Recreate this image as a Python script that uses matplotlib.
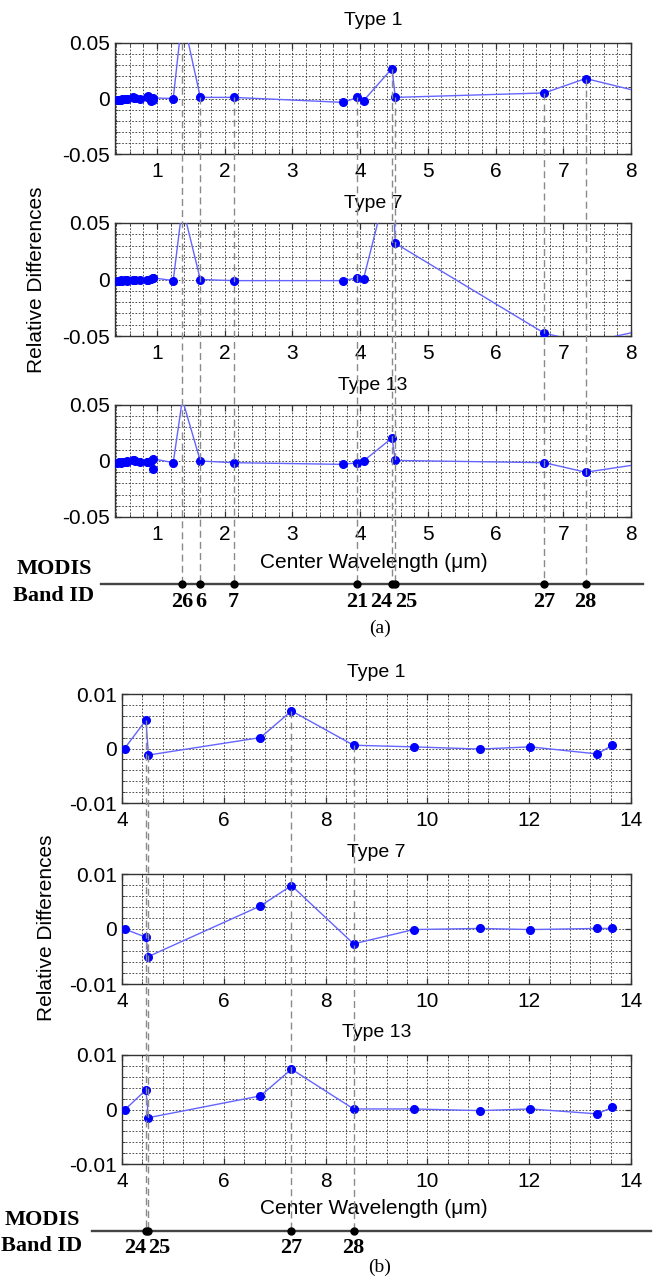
import matplotlib
matplotlib.use('Agg')
import matplotlib.pyplot as plt
from matplotlib.lines import Line2D
from matplotlib.ticker import MultipleLocator
import numpy as np

plt.rcParams['font.family'] = ['Liberation Sans', 'DejaVu Sans']

# ---------------- data: panel (a) ----------------
wl_a = [0.412, 0.443, 0.469, 0.488, 0.531, 0.551, 0.555, 0.645, 0.667, 0.678,
        0.748, 0.858, 0.869, 0.905, 0.936, 0.940, 1.24, 1.375, 1.64, 2.13,
        3.75, 3.96, 4.05, 4.47, 4.52, 6.72, 7.33, 8.55]
type1_a = [-0.001, -0.0012, -0.001, -0.0008, -0.0005, -0.0005, 0.0, 0.001, 0.0008, 0.0005,
           -0.0002, 0.0015, 0.002, -0.002, -0.0015, 0.0005, 0.0, 0.075, 0.001, 0.001,
           -0.0035, 0.001, -0.002, 0.027, 0.001, 0.005, 0.018, -0.0002]
type7_a = [-0.001, -0.001, -0.0008, -0.001, -0.0008, -0.0008, -0.001, -0.0006, -0.0006, -0.0008,
           -0.0008, -0.0005, -0.0005, 0.0005, 0.0012, 0.0015, -0.001, 0.065, 0.0, -0.001,
           -0.001, 0.0015, 0.0005, 0.10, 0.032, -0.0475, -0.056, -0.04]
type13_a = [-0.002, -0.001, -0.0015, -0.0005, -0.001, -0.0005, 0.0, 0.001, 0.0005, 0.0,
            -0.001, -0.0005, -0.001, 0.0, -0.007, 0.002, -0.0015, 0.055, 0.0, -0.0015,
            -0.003, -0.0015, 0.0, 0.0205, 0.0005, -0.0015, -0.01, 0.001]
xticks_a = [1, 2, 3, 4, 5, 6, 7, 8]
xticklabels_a = ['1', '2', '3', '4', '5', '6', '7', '8']
yticks_a = [-0.05, 0, 0.05]
yticklabels_a = ['-0.05', '0', '0.05']
band_wl_a = [1.375, 1.64, 2.13, 3.96, 4.47, 4.52, 6.72, 7.33]
band_id_a = ['26', '6', '7', '21', '24', '25', '27', '28']
band_ha_a = ['center', 'center', 'center', 'center', 'right', 'left', 'center', 'center']

# ---------------- data: panel (b) ----------------
wl_b = [4.05, 4.47, 4.52, 6.72, 7.33, 8.55, 9.73, 11.03, 12.02, 13.335, 13.635]
type1_b = [0.0, 0.0052, -0.0012, 0.002, 0.0069, 0.0006, 0.0003, -0.0001, 0.0003, -0.001, 0.0006]
type7_b = [0.0, -0.0015, -0.005, 0.0042, 0.0079, -0.0027, -0.0001, 0.0001, -0.0001, 0.0001, 0.0001]
type13_b = [-0.0001, 0.0036, -0.0015, 0.0025, 0.0074, 0.0001, 0.0001, -0.0002, 0.0001, -0.0008, 0.0004]
xticks_b = [4, 6, 8, 10, 12, 14]
xticklabels_b = ['4', '6', '8', '10', '12', '14']
yticks_b = [-0.01, 0, 0.01]
yticklabels_b = ['-0.01', '0', '0.01']
band_wl_b = [4.47, 4.52, 7.33, 8.55]
band_id_b = ['24', '25', '27', '28']
band_ha_b = ['right', 'left', 'center', 'center']

titles = ['Type 1', 'Type 7', 'Type 13']

# ---------------- layout helpers ----------------
W, H = 659, 1281
fig = plt.figure(figsize=(W / 100, H / 100), dpi=100)


def fx(px):
    return px / W


def fy(py):
    return 1 - py / H


def rect(l, r, t, b):
    return [fx(l), fy(b), fx(r) - fx(l), fy(t) - fy(b)]


LINE_C = '#6464ff'
MARK_C = '#0000ff'
GRID_C = '#333333'
FRAME_C = '#333333'


def make_axes(r, xlim, xt, xtl, xminor, yt, ytl, yminor, x, y, title, tpad):
    ax = fig.add_axes(r)
    ax.plot(x, y, color=LINE_C, lw=1.0, zorder=3)
    ax.plot(x, y, ls='none', marker='o', ms=5.5, color=MARK_C, zorder=4)
    ax.set_xlim(xlim)
    ax.set_ylim(yt[0], yt[-1])
    ax.set_xticks(xt)
    ax.set_xticklabels(xtl)
    ax.set_yticks(yt)
    ax.set_yticklabels(ytl)
    ax.xaxis.set_minor_locator(MultipleLocator(xminor))
    ax.yaxis.set_minor_locator(MultipleLocator(yminor))
    ax.grid(which='both', linestyle=(0, (2, 2)), color=GRID_C, linewidth=0.6, zorder=1)
    ax.set_axisbelow(True)
    ax.tick_params(which='both', direction='in', top=True, right=True, color=FRAME_C)
    ax.tick_params(which='major', length=4.5, width=0.9, labelsize=15)
    ax.tick_params(which='minor', length=2.2, width=0.6)
    ax.tick_params(axis='x', pad=5.5)
    ax.tick_params(axis='y', pad=3.5)
    for s in ax.spines.values():
        s.set_color(FRAME_C)
        s.set_linewidth(1.0)
    ax.set_title(title, fontsize=14, pad=tpad)
    return ax


# ---------------- panel (a) ----------------
a_rows = [(43, 154), (223, 336), (405, 517)]
a_data = [type1_a, type7_a, type13_a]
a_pads = [13, 11, 11]
axes_a = []
for (t, b), d, ttl, p in zip(a_rows, a_data, titles, a_pads):
    axes_a.append(make_axes(rect(115, 631, t, b), (0.38, 8), xticks_a, xticklabels_a, 0.2,
                            yticks_a, yticklabels_a, 0.01, wl_a, d, ttl, p))

# ---------------- panel (b) ----------------
b_rows = [(694, 803), (874, 984), (1055, 1164)]
b_data = [type1_b, type7_b, type13_b]
b_pads = [12, 12, 13]
axes_b = []
for (t, b), d, ttl, p in zip(b_rows, b_data, titles, b_pads):
    axes_b.append(make_axes(rect(122, 631, t, b), (4, 14), xticks_b, xticklabels_b, 0.4,
                            yticks_b, yticklabels_b, 0.002, wl_b, d, ttl, p))

inv = fig.transFigure.inverted()


def band_panel(axes, wl, top_vals, bwl, bid, bha, line_y, line_x0, line_x1,
               label_y, modis_x, modis_y, band_y, cap, cap_y, xlab_y, ylab_x, ylab_y):
    top_ax = axes[0]
    lo, hi = top_ax.get_ylim()
    # horizontal band line
    fig.add_artist(Line2D([fx(line_x0), fx(line_x1)], [fy(line_y), fy(line_y)],
                          transform=fig.transFigure, color='#444444', lw=1.7, zorder=5))
    xs = []
    for w, lab, ha in zip(bwl, bid, bha):
        v = float(np.interp(w, wl, top_vals))
        v = min(max(v, lo), hi)
        p = inv.transform(top_ax.transData.transform((w, v)))
        xs.append(p[0])
        fig.add_artist(Line2D([p[0], p[0]], [p[1], fy(line_y)], transform=fig.transFigure,
                              color='#8a8a8a', lw=1.0, ls=(0, (5, 3)), zorder=4))
        fig.text(p[0], fy(label_y), lab, ha=ha, va='center', family='Liberation Serif',
                 fontweight='bold', fontsize=16)
    fig.add_artist(Line2D(xs, [fy(line_y)] * len(xs), transform=fig.transFigure, ls='none',
                          marker='o', ms=5, color='black', zorder=6))
    fig.text(fx(modis_x), fy(modis_y), 'MODIS', ha='center', va='center',
             family='Liberation Serif', fontweight='bold', fontsize=16)
    fig.text(fx(modis_x), fy(band_y), 'Band ID', ha='center', va='center',
             family='Liberation Serif', fontweight='bold', fontsize=16)
    fig.text(fx(380), fy(cap_y), cap, ha='center', va='center', family='Liberation Serif',
             fontsize=14)
    fig.text(fx(374), fy(xlab_y), 'Center Wavelength (\u03bcm)', ha='center', va='center',
             fontsize=15)
    fig.text(fx(ylab_x), fy(ylab_y), 'Relative Differences', rotation=90, ha='center',
             va='center', fontsize=15)


band_panel(axes_a, wl_a, type1_a, band_wl_a, band_id_a, band_ha_a, 584, 101, 643, 602,
           54, 569, 596, '(a)', 628, 563, 37, 280)
band_panel(axes_b, wl_b, type1_b, band_wl_b, band_id_b, band_ha_b, 1231, 92, 651, 1248,
           42, 1220, 1246, '(b)', 1267, 1208, 46, 928)

fig.savefig('out.png', dpi=100)
